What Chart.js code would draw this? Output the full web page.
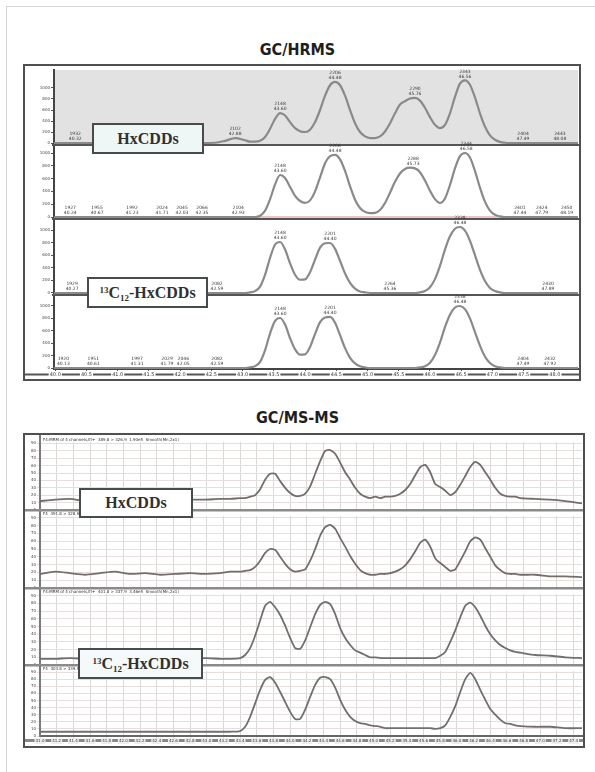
<!DOCTYPE html>
<html>
<head>
<meta charset="utf-8">
<title>HxCDDs: GC/HRMS vs GC/MS-MS</title>
<script src="https://cdn.jsdelivr.net/npm/chart.js@4.4.1/dist/chart.umd.min.js"></script>
<style>
  html, body { margin: 0; padding: 0; background: #fff; }
  body { position: relative; width: 595px; height: 772px; overflow: hidden; }
  #frame { position: absolute; left: 6px; top: 6px; width: 600px; height: 780px;
           border-left: 1px solid #d6d6d6; border-top: 1px solid #d6d6d6; }
  .title { position: absolute; left: 0; width: 595px; text-align: center; line-height: 16px;
           font: bold 16px "DejaVu Sans Condensed", "DejaVu Sans", sans-serif; color: #1e1e1e; }
  .panel { position: absolute; box-sizing: border-box; border: 2px solid #505050; background: #fff; }
  .plot { position: absolute; }
  .tag { position: absolute; box-sizing: border-box; border: 2px solid #464c4c;
         display: flex; align-items: center; justify-content: center;
         font: bold 16px "Liberation Serif", "DejaVu Serif", serif; color: #303030; }
  .tag .sup, .tag .sub { font-size: 9px; position: relative; }
  .tag .sup { top: -5px; }
  .tag .sub { top: 3px; }
</style>
</head>
<body>
<div id="frame"></div>

<div class="title" style="top:40px">GC/HRMS</div>
<div class="panel" style="left:23px; top:64px; width:558px; height:317px"></div>
<canvas id="hrms" class="plot" width="554" height="313" style="left:25px; top:66px; width:554px; height:313px"></canvas>
<div class="tag" style="left:92px; top:123px; width:112px; height:31px; background:#eef6f6">HxCDDs</div>
<div class="tag" style="left:87px; top:277px; width:121px; height:31px; background:#fff"><span><span class="sup">13</span>C<span class="sub">12</span>-HxCDDs</span></div>

<div class="title" style="top:408px">GC/MS-MS</div>
<div class="panel" style="left:23px; top:433px; width:562px; height:315px"></div>
<canvas id="msms" class="plot" width="558" height="311" style="left:25px; top:435px; width:558px; height:311px"></canvas>
<div class="tag" style="left:79px; top:488px; width:114px; height:30px; background:#fff">HxCDDs</div>
<div class="tag" style="left:78px; top:648px; width:125px; height:31px; background:#f6f9f9"><span><span class="sup">13</span>C<span class="sub">12</span>-HxCDDs</span></div>

<script>
// ---- GC/HRMS (top): retention time grid (min) and one abundance list per ion trace
const hrmsTime = [39.98, 40.72, 41.52, 42.32, 42.56, 42.72, 42.88, 43.04, 43.12,
  43.20, 43.28, 43.36, 43.44, 43.52, 43.60, 43.68, 43.76, 43.84, 43.92,
  44.00, 44.08, 44.16, 44.24, 44.32, 44.40, 44.48, 44.56, 44.64, 44.72,
  44.80, 44.88, 44.96, 45.04, 45.12, 45.20, 45.28, 45.36, 45.44, 45.52,
  45.60, 45.68, 45.76, 45.84, 45.92, 46.00, 46.08, 46.16, 46.24, 46.32,
  46.40, 46.48, 46.56, 46.64, 46.72, 46.80, 46.88, 46.96, 47.04, 47.12,
  47.20, 47.28, 47.44, 47.76, 48.08, 48.37];

const hrmsNativeA = [0, 0, 0, 0, 5, 40, 90, 50, 25,
  25, 40, 110, 260, 440, 545, 500, 380, 270, 215,
  200, 240, 380, 600, 860, 1050, 1110, 1050, 860, 600,
  360, 200, 120, 90, 90, 120, 210, 360, 540, 700,
  760, 810, 820, 770, 640, 470, 330, 270, 330, 540,
  840, 1080, 1140, 1060, 830, 540, 300, 140, 60, 20,
  5, 0, 0, 0, 0, 0];

const hrmsNativeB = [0, 0, 0, 0, 0, 0, 0, 0, 0,
  0, 20, 100, 280, 510, 656, 610, 470, 330, 250,
  220, 260, 400, 620, 840, 950, 970, 900, 720, 480,
  270, 140, 80, 60, 65, 110, 220, 380, 550, 680,
  750, 770, 760, 700, 570, 410, 280, 220, 290, 500,
  760, 950, 1000, 930, 720, 460, 240, 100, 35, 10,
  0, 0, 0, 0, 0, 0];

const hrmsLabelA = [0, 0, 0, 0, 0, 0, 0, 0, 10,
  30, 100, 290, 560, 770, 810, 690, 470, 290, 210,
  215, 330, 530, 720, 790, 794, 700, 510, 310, 160,
  70, 25, 10, 0, 0, 0, 0, 0, 0, 0,
  0, 0, 0, 10, 30, 90, 220, 430, 690, 900,
  1020, 1048, 990, 830, 600, 370, 190, 80, 30, 10,
  0, 0, 0, 0, 0, 0];

const hrmsLabelB = [0, 0, 0, 0, 0, 0, 0, 0, 10,
  30, 100, 290, 560, 760, 806, 700, 480, 300, 215,
  220, 340, 550, 740, 815, 823, 730, 530, 320, 165,
  75, 28, 10, 0, 0, 0, 0, 0, 0, 0,
  0, 0, 0, 10, 30, 85, 210, 410, 660, 860,
  975, 1000, 950, 800, 580, 360, 185, 80, 30, 10,
  0, 0, 0, 0, 0, 0];

// peak annotations: [retention time, scan]
const hrmsPeaksA = [[40.32, '1932'], [42.88, '2102'], [43.60, '2148'], [44.48, '2206'],
  [45.76, '2290'], [46.56, '2343'], [47.49, '2404'], [48.08, '2443']];
const hrmsPeaksB = [[40.24, '1927'], [40.67, '1955'], [41.23, '1992'], [41.71, '2024'],
  [42.03, '2045'], [42.35, '2066'], [42.93, '2104'], [43.60, '2148'], [44.48, '2206'],
  [45.73, '2288'], [46.58, '2344'], [47.44, '2401'], [47.79, '2424'], [48.19, '2450']];
const hrmsPeaksC = [[40.27, '1929'], [42.59, '2082'], [43.60, '2148'], [44.40, '2201'],
  [45.36, '2264'], [46.48, '2338'], [47.89, '2430']];
const hrmsPeaksD = [[40.13, '1920'], [40.61, '1951'], [41.31, '1997'], [41.79, '2029'],
  [42.05, '2046'], [42.59, '2082'], [43.60, '2148'], [44.40, '2201'], [46.48, '2338'],
  [47.49, '2404'], [47.92, '2432']];

const hrmsXTicks = [40.0, 40.5, 41.0, 41.5, 42.0, 42.5, 43.0, 43.5, 44.0, 44.5,
  45.0, 45.5, 46.0, 46.5, 47.0, 47.5, 48.0];
const hrmsYTicks = [0, 200, 400, 600, 800, 1000];

// ---- GC/MS-MS (bottom): retention time grid and relative response per transition
const msmsTime = [41.00, 41.18, 41.36, 41.54, 41.72, 41.90, 42.08, 42.26, 42.44, 42.62, 42.80, 42.98, 43.16, 43.28,
  43.40, 43.46, 43.52, 43.58, 43.64, 43.70, 43.76, 43.82, 43.88, 43.94,
  44.00, 44.06, 44.12, 44.18, 44.24, 44.30, 44.36, 44.42, 44.48, 44.54,
  44.60, 44.66, 44.72, 44.78, 44.84, 44.90, 44.96, 45.02, 45.08, 45.14,
  45.20, 45.26, 45.32, 45.38, 45.44, 45.50, 45.56, 45.62, 45.68, 45.74,
  45.80, 45.86, 45.92, 45.98, 46.04, 46.10, 46.16, 46.22, 46.28, 46.34,
  46.40, 46.46, 46.52, 46.58, 46.64, 46.70, 46.76,
  46.94, 47.12, 47.30, 47.50];

const msmsNativeA = [12, 14, 15, 12, 11, 12, 14, 12, 11, 12, 14, 14, 15, 15,
  16, 16, 18, 20, 28, 41, 49, 49, 39, 30,
  23, 19, 19, 22, 32, 49, 66, 80, 81, 76,
  64, 51, 41, 30, 22, 18, 16, 18, 16, 18,
  18, 19, 22, 27, 35, 47, 58, 61, 51, 35,
  31, 26, 20, 24, 34, 46, 58, 65, 61, 51,
  41, 30, 22, 19, 18, 18, 16,
  15, 14, 12, 9];

const msmsNativeB = [18, 21, 19, 17, 19, 21, 18, 19, 17, 18, 19, 18, 19, 21,
  21, 22, 23, 27, 35, 45, 50, 49, 40, 31,
  24, 21, 22, 24, 35, 50, 67, 78, 81, 76,
  64, 53, 41, 31, 23, 19, 17, 17, 18, 18,
  19, 21, 24, 29, 37, 47, 58, 62, 53, 38,
  32, 27, 22, 24, 35, 47, 60, 65, 62, 51,
  40, 29, 23, 19, 18, 18, 17,
  17, 15, 15, 14];

const msmsLabelA = [8, 8, 9, 8, 8, 8, 9, 8, 8, 8, 8, 9, 8, 8,
  9, 13, 22, 38, 58, 77, 82, 75, 65, 51,
  35, 22, 21, 32, 49, 66, 78, 82, 79, 66,
  48, 35, 26, 19, 16, 13, 10, 10, 9, 9,
  9, 9, 9, 9, 9, 9, 9, 9, 9, 9,
  12, 17, 30, 45, 62, 77, 81, 75, 64, 51,
  40, 32, 26, 22, 19, 17, 16,
  13, 12, 10, 9];

const msmsLabelB = [6, 6, 6, 6, 6, 6, 6, 6, 6, 6, 6, 6, 6, 6,
  7, 13, 27, 46, 65, 79, 83, 75, 62, 48,
  34, 24, 24, 37, 55, 72, 82, 83, 80, 68,
  51, 37, 27, 21, 18, 17, 15, 14, 13, 11,
  11, 11, 11, 11, 11, 11, 11, 11, 11, 10,
  11, 15, 27, 42, 62, 80, 89, 80, 65, 51,
  38, 30, 23, 18, 17, 15, 14,
  13, 13, 11, 11];

const msmsHeaders = ['F4:MRM of 4 channels,EI+  389.8 > 326.9  1.90e5  Smooth(Mn,2x1)',
  'F4  391.8 > 328.9',
  'F4:MRM of 4 channels,EI+  401.8 > 337.9  3.46e5  Smooth(Mn,2x1)',
  'F4  403.8 > 339.9'];

const msmsXTicks = [41.0, 41.2, 41.4, 41.6, 41.8, 42.0, 42.2, 42.4, 42.6, 42.8,
  43.0, 43.2, 43.4, 43.6, 43.8, 44.0, 44.2, 44.4, 44.6, 44.8,
  45.0, 45.2, 45.4, 45.6, 45.8, 46.0, 46.2, 46.4, 46.6, 46.8,
  47.0, 47.2, 47.4];
const msmsYTicks = [0, 10, 20, 30, 40, 50, 60, 70, 80, 90];

Chart.defaults.font.family = '"DejaVu Sans", sans-serif';
Chart.defaults.animation = false;

function pts(times, values) {
  return times.map((t, i) => ({ x: t, y: values[i] }));
}

// shading, separators, trace headers and peak annotations
const decor = {
  id: 'decor',
  beforeDraw(chart, args, o) {
    const { ctx, chartArea: a, scales } = chart;
    ctx.save();
    if (o.shade) {
      const s = scales[o.shade.axis];
      ctx.fillStyle = o.shade.color;
      ctx.fillRect(a.left, s.top, a.right - a.left, s.bottom - s.top);
    }
    if (o.rule) {
      // dark rule running through the time labels
      const x = scales.x;
      ctx.fillStyle = o.rule.color;
      ctx.fillRect(0, x.top + o.rule.offset, chart.width, o.rule.width);
    }
    ctx.restore();
  },
  beforeDatasetsDraw(chart, args, o) {
    if (!o.headers) return;
    const { ctx, chartArea: a, scales } = chart;
    ctx.save();
    o.headers.forEach((txt, i) => {
      const s = scales['y' + (i + 1)];
      ctx.fillStyle = '#fff';
      ctx.fillRect(a.left + 1, s.top, a.right - a.left - 1, 6);
      ctx.fillStyle = '#333';
      ctx.font = '4px "DejaVu Sans"';
      ctx.textBaseline = 'middle';
      ctx.fillText(txt, a.left + 3, s.top + 3.5);
    });
    ctx.restore();
  },
  afterDatasetsDraw(chart, args, o) {
    const { ctx, scales } = chart;
    ctx.save();
    (o.separators || []).forEach(id => {
      const s = scales[id];
      ctx.fillStyle = o.sepColor;
      ctx.fillRect(o.sepFrom, s.bottom - 1, chart.width - o.sepFrom, o.sepWidth);
    });
    if (o.peaks) {
      ctx.fillStyle = '#3a3a3a';
      ctx.font = '4.5px "DejaVu Sans"';
      ctx.textAlign = 'center';
      ctx.textBaseline = 'bottom';
      o.peaks.forEach((list, k) => {
        const ds = chart.data.datasets[k];
        const ys = scales[ds.yAxisID];
        list.forEach(([rt, scan]) => {
          let v = 0;
          ds.data.forEach(p => { if (Math.abs(p.x - rt) <= 0.05) v = Math.max(v, p.y); });
          const px = scales.x.getPixelForValue(rt);
          const py = ys.getPixelForValue(v) - 1.5;
          ctx.fillText(rt.toFixed(2), px, py);
          ctx.fillText(scan, px, py - 5);
        });
      });
    }
    ctx.restore();
  }
};

function bandAxis(stack, weight, stackWeight, min, max, ticks, width, onArea, gridColor, borderColor) {
  return {
    type: 'linear', position: 'left', stack, weight, stackWeight, min, max,
    afterBuildTicks: s => { s.ticks = ticks.map(v => ({ value: v })); },
    afterFit: s => { s.width = width; s.paddingTop = 0; s.paddingBottom = 0; },
    grid: { drawOnChartArea: onArea, color: gridColor, tickLength: 3 },
    border: { color: borderColor, width: 2 },
    ticks: { font: { size: 4 }, color: '#444', padding: 1, autoSkip: false, callback: v => String(v) }
  };
}

// ---------- GC/HRMS ----------
const hrmsTraces = [hrmsNativeA, hrmsNativeB, hrmsLabelA, hrmsLabelB];
const hrmsRanges = [[-36, 1327], [-31, 1125], [-32, 1175], [-16, 1177]];
const hrmsBands = [75, 74, 76, 74];
const hrmsScales = {
  x: {
    type: 'linear', min: 39.98, max: 48.37,
    afterBuildTicks: s => { s.ticks = hrmsXTicks.map(v => ({ value: v })); },
    afterFit: s => { s.height = 9; s.paddingLeft = 0; s.paddingRight = 0; },
    grid: { drawOnChartArea: false, color: '#555', tickLength: 2 },
    border: { color: '#444', width: 2 },
    ticks: { font: { size: 5 }, color: '#333', padding: 1, autoSkip: false, maxRotation: 0,
             callback: v => v.toFixed(1), showLabelBackdrop: true, backdropColor: '#fff', backdropPadding: 1 }
  }
};
hrmsTraces.forEach((t, i) => {
  hrmsScales['y' + (i + 1)] = bandAxis('hrms', 4 - i, hrmsBands[i], hrmsRanges[i][0], hrmsRanges[i][1],
    hrmsYTicks, 22, false, '#555', '#444');
});

new Chart(document.getElementById('hrms'), {
  type: 'line',
  data: {
    datasets: hrmsTraces.map((vals, i) => ({
      data: pts(hrmsTime, vals), yAxisID: 'y' + (i + 1),
      borderColor: '#8a8a8a', borderWidth: 2.2, pointRadius: 0,
      cubicInterpolationMode: 'monotone', order: 0
    })).concat([{
      // integration baseline of the second ion trace
      data: [{ x: hrmsTime[0], y: 0 }, { x: hrmsTime[hrmsTime.length - 1], y: 0 }],
      yAxisID: 'y2', borderColor: '#d98a8a', borderWidth: 1.2, pointRadius: 0, order: 1
    }])
  },
  options: {
    responsive: false,
    devicePixelRatio: 1,
    layout: { padding: { left: 7, top: 4, right: 1, bottom: 1 } },
    scales: hrmsScales,
    plugins: {
      legend: { display: false }, tooltip: { enabled: false },
      decor: {
        shade: { axis: 'y1', color: '#e2e2e2' },
        rule: { color: '#555', offset: 4.5, width: 2 },
        separators: ['y1', 'y2', 'y3'], sepColor: '#555', sepFrom: 27, sepWidth: 2,
        peaks: [hrmsPeaksA, hrmsPeaksB, hrmsPeaksC, hrmsPeaksD]
      }
    }
  },
  plugins: [decor]
});

// ---------- GC/MS-MS ----------
const msmsTraces = [msmsNativeA, msmsNativeB, msmsLabelA, msmsLabelB];
const msmsBands = [74, 78, 77, 71];
const msmsScales = {
  x: {
    type: 'linear', min: 41.0, max: 47.5,
    afterBuildTicks: s => { s.ticks = msmsXTicks.map(v => ({ value: v })); },
    afterFit: s => { s.height = 8; s.paddingLeft = 0; s.paddingRight = 0; },
    grid: { color: '#d9d9d9', tickLength: 2 },
    border: { color: '#666', width: 2 },
    ticks: { font: { size: 4 }, color: '#333', padding: 1, autoSkip: false, maxRotation: 0,
             callback: v => v.toFixed(1), showLabelBackdrop: true, backdropColor: '#eee', backdropPadding: 1 }
  }
};
msmsTraces.forEach((t, i) => {
  msmsScales['y' + (i + 1)] = bandAxis('msms', 4 - i, msmsBands[i], 0, 100,
    msmsYTicks, 12, true, '#e6dddd', '#7a7a7a');
});

new Chart(document.getElementById('msms'), {
  type: 'line',
  data: {
    datasets: msmsTraces.map((vals, i) => ({
      data: pts(msmsTime, vals), yAxisID: 'y' + (i + 1),
      borderColor: i < 2 ? '#756c6c' : '#707070', borderWidth: 1.8, pointRadius: 0, tension: 0.2
    }))
  },
  options: {
    responsive: false,
    devicePixelRatio: 1,
    layout: { padding: { left: 3, top: 1, right: 1, bottom: 2 } },
    scales: msmsScales,
    plugins: {
      legend: { display: false }, tooltip: { enabled: false },
      decor: {
        rule: { color: '#888', offset: 3, width: 3 },
        headers: msmsHeaders,
        separators: ['y1', 'y2', 'y3'], sepColor: '#8a8a8a', sepFrom: 0, sepWidth: 2.5
      }
    }
  },
  plugins: [decor]
});
</script>
</body>
</html>
